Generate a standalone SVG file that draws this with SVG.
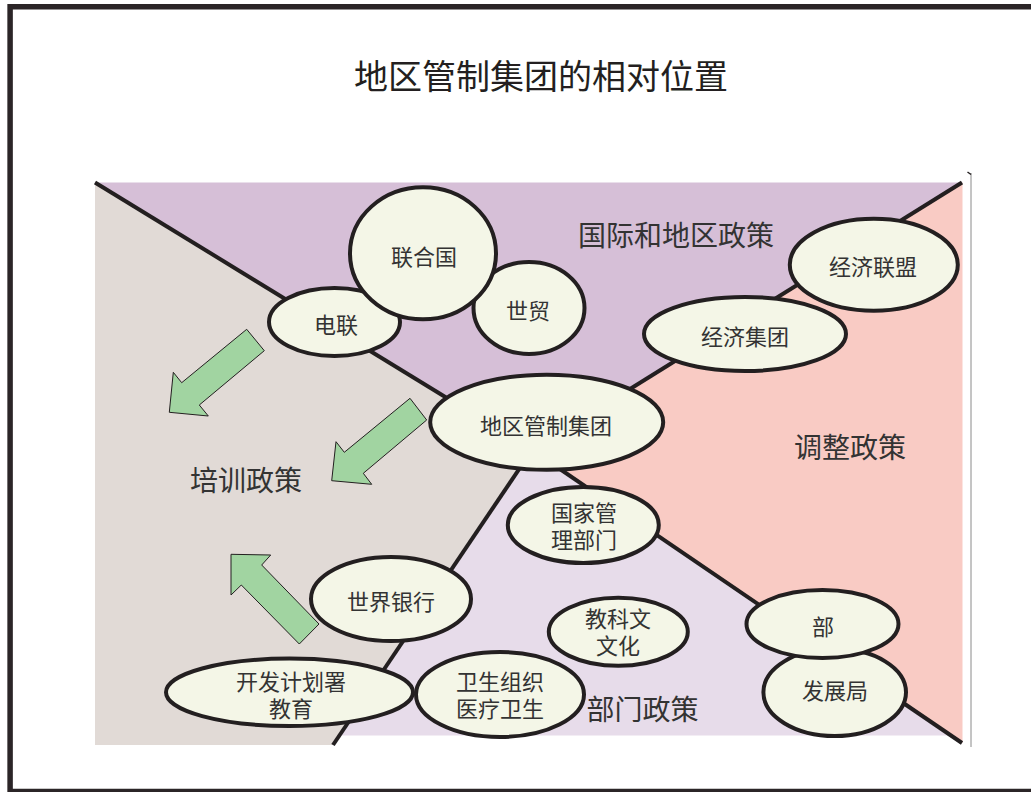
<svg xmlns="http://www.w3.org/2000/svg" width="1031" height="792" viewBox="0 0 1031 792">
<style>
.t{font-family:"Liberation Serif","Noto Sans CJK SC",serif;fill:#333;text-anchor:middle}
.title{font-size:34px;fill:#231f20}
.reg{font-size:28px}
.lbl{font-size:22px}
.node ellipse{fill:#f4f6e7;stroke:#231f20;stroke-width:4}
.arrow{fill:#a1d4a1;stroke:#231f20;stroke-width:1}
.conn line{stroke:#231f20;stroke-width:4}
</style>
<rect width="1031" height="792" fill="#fff"/>
<path d="M1031,6.8 H10.1 V791.5 H1031" fill="none" stroke="#2b2527" stroke-width="5.5"/>
<text class="t title" x="541" y="89">地区管制集团的相对位置</text>

<g id="regions">
<polygon points="95,182.5 532,450 333,745 95,745" fill="#e1dad6"/>
<polygon points="95,182.5 962.5,182.5 532,450" fill="#d6bfd7"/>
<polygon points="962.5,182.5 962.5,743 532,450" fill="#f9cbc4"/>
<polygon points="532,450 951,735.5 339.4,735.5" fill="#e7dcea"/>
</g>
<path d="M971,173 V747" stroke="#8a8a8a" stroke-width="1" fill="none"/>
<path d="M967.5,172 L971,174.5" stroke="#231f20" stroke-width="1.5" fill="none"/>

<g id="connectors" class="conn">
<line x1="95" y1="182.5" x2="532" y2="450"/>
<line x1="962" y1="182.5" x2="532" y2="450"/>
<line x1="532" y1="450" x2="333" y2="745"/>
<line x1="532" y1="450" x2="962" y2="743"/>
</g>

<g id="arrows">
<polygon class="arrow" points="246.7,329.3 264.3,350.7 199.3,405 208.3,416 169.3,412.3 173.3,372.3 181.7,382.7"/>
<polygon class="arrow" points="410,398.3 426.7,420 363.3,473.3 371.7,484.3 331.7,480.7 336,441.7 344.3,452.3"/>
<polygon class="arrow" points="319,624 299.3,644 241.3,585 231,595 231,554.3 270.7,555 261.7,565"/>
</g>

<text class="t reg" x="676" y="246">国际和地区政策</text>
<text class="t reg" x="850" y="458">调整政策</text>
<text class="t reg" x="246" y="491">培训政策</text>
<text class="t reg" x="642.5" y="720">部门政策</text>

<g id="n-dianlian" class="node"><ellipse cx="334.5" cy="322" rx="65.5" ry="34"/><text class="t lbl" x="336" y="333">电联</text></g>
<g id="n-shimao" class="node"><ellipse cx="529" cy="308" rx="55.5" ry="46"/><text class="t lbl" x="528" y="319">世贸</text></g>
<g id="n-lianheguo" class="node"><ellipse cx="423" cy="253.3" rx="73" ry="66"/><text class="t lbl" x="424" y="265">联合国</text></g>
<g id="n-jjlm" class="node"><ellipse cx="873.8" cy="264.8" rx="84" ry="46"/><text class="t lbl" x="873" y="275">经济联盟</text></g>
<g id="n-jjjt" class="node"><ellipse cx="745" cy="334" rx="101" ry="37"/><text class="t lbl" x="745" y="345">经济集团</text></g>
<g id="n-dqgzjt" class="node"><ellipse cx="546.7" cy="422.2" rx="116.5" ry="47.5"/><text class="t lbl" x="546" y="434">地区管制集团</text></g>
<g id="n-gjglbm" class="node"><ellipse cx="583.3" cy="525" rx="75.5" ry="38"/><text class="t lbl" x="584" y="521">国家管</text><text class="t lbl" x="584" y="548">理部门</text></g>
<g id="n-jkw" class="node"><ellipse cx="618.3" cy="631.8" rx="69.5" ry="34"/><text class="t lbl" x="618" y="627">教科文</text><text class="t lbl" x="618" y="654">文化</text></g>
<g id="n-fzj" class="node"><ellipse cx="834.7" cy="692.3" rx="71.3" ry="43.7"/><text class="t lbl" x="835" y="699">发展局</text></g>
<g id="n-bu" class="node"><ellipse cx="822.5" cy="624" rx="76" ry="34"/><text class="t lbl" x="823" y="635">部</text></g>
<g id="n-sjyh" class="node"><ellipse cx="391" cy="599" rx="80" ry="42"/><text class="t lbl" x="391" y="610">世界银行</text></g>
<g id="n-kfjhs" class="node"><ellipse cx="289.5" cy="692.3" rx="123.5" ry="33.7"/><text class="t lbl" x="291" y="690">开发计划署</text><text class="t lbl" x="291" y="717">教育</text></g>
<g id="n-wszz" class="node"><ellipse cx="500" cy="694.5" rx="84" ry="42.5"/><text class="t lbl" x="500" y="690">卫生组织</text><text class="t lbl" x="500" y="717">医疗卫生</text></g>
</svg>
